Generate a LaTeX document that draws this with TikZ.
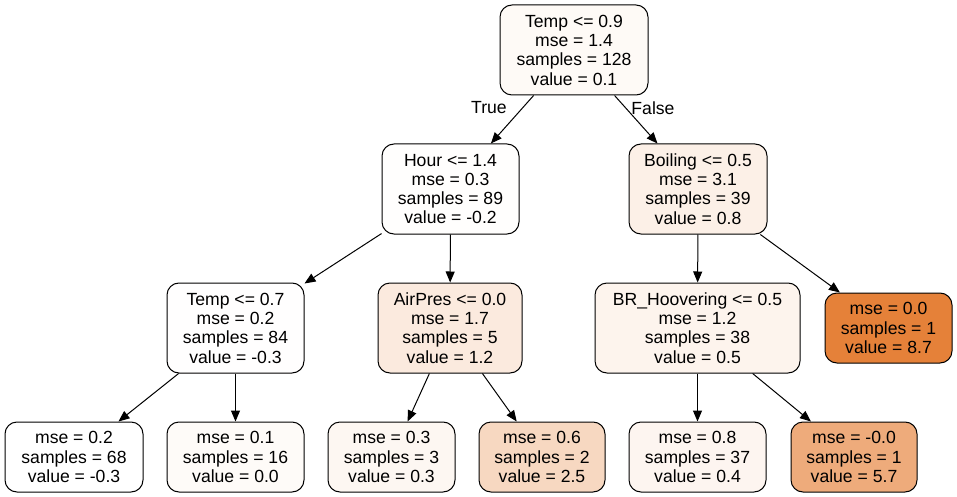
\documentclass[tikz,border=0pt]{standalone}
\usepackage{fontspec}
\setmainfont{Liberation Sans}
\usetikzlibrary{arrows.meta}
\definecolor{cA}{RGB}{254,250,246}
\definecolor{cB}{RGB}{255,254,253}
\definecolor{cC}{RGB}{252,240,231}
\definecolor{cD}{RGB}{255,254,254}
\definecolor{cE}{RGB}{251,234,222}
\definecolor{cF}{RGB}{253,244,237}
\definecolor{cG}{RGB}{229,129,57}
\definecolor{cH}{RGB}{255,255,255}
\definecolor{cI}{RGB}{254,251,248}
\definecolor{cJ}{RGB}{253,247,242}
\definecolor{cK}{RGB}{247,216,193}
\definecolor{cL}{RGB}{253,245,240}
\definecolor{cM}{RGB}{238,171,123}
\begin{document}
\begin{tikzpicture}[x=1pt,y=-1pt,
  tnode/.style={draw=black, line width=1pt, rounded corners=12pt, inner sep=0pt,
    align=center, font=\fontsize{17.6}{19.3}\selectfont, minimum height=90pt},
  leafnode/.style={tnode, minimum height=70pt},
  edge/.style={draw=black, line width=1pt, -{Triangle[length=11pt,width=9pt]}},
  lbl/.style={font=\fontsize{17.6}{19.3}\selectfont, inner sep=0pt}]
\fill[white] (0,0) rectangle (957,497);
\useasboundingbox (0,0) rectangle (957,497);
% level 0
\node[tnode, fill=cA, minimum width=148pt] (n0) at (574,50)
  {Temp <= 0.9\\mse = 1.4\\samples = 128\\value = 0.1};
% level 1
\node[tnode, fill=cB, minimum width=137pt] (n1) at (450.5,189)
  {Hour <= 1.4\\mse = 0.3\\samples = 89\\value = -0.2};
\node[tnode, fill=cC, minimum width=138pt] (n2) at (698,189)
  {Boiling <= 0.5\\mse = 3.1\\samples = 39\\value = 0.8};
% level 2
\node[tnode, fill=cD, minimum width=137pt] (n3) at (235.5,328)
  {Temp <= 0.7\\mse = 0.2\\samples = 84\\value = -0.3};
\node[tnode, fill=cE, minimum width=144pt] (n4) at (450,328)
  {AirPres <= 0.0\\mse = 1.7\\samples = 5\\value = 1.2};
\node[tnode, fill=cF, minimum width=205pt] (n5) at (697.5,328)
  {BR\_Hoovering <= 0.5\\mse = 1.2\\samples = 38\\value = 0.5};
\node[leafnode, fill=cG, minimum width=127pt] (n6) at (888.5,328)
  {mse = 0.0\\samples = 1\\value = 8.7};
% level 3
\node[leafnode, fill=cH, minimum width=138pt] (n7) at (74,457)
  {mse = 0.2\\samples = 68\\value = -0.3};
\node[leafnode, fill=cI, minimum width=137pt] (n8) at (235.5,457)
  {mse = 0.1\\samples = 16\\value = 0.0};
\node[leafnode, fill=cJ, minimum width=127pt] (n9) at (391.5,457)
  {mse = 0.3\\samples = 3\\value = 0.3};
\node[leafnode, fill=cK, minimum width=126pt] (n10) at (542,457)
  {mse = 0.6\\samples = 2\\value = 2.5};
\node[leafnode, fill=cL, minimum width=137pt] (n11) at (697.5,457)
  {mse = 0.8\\samples = 37\\value = 0.4};
\node[leafnode, fill=cM, minimum width=126pt] (n12) at (854,457)
  {mse = -0.0\\samples = 1\\value = 5.7};
% edges
\draw[edge] (n0) -- (n1);
\draw[edge] (n0) -- (n2);
\draw[edge] (n1) -- (n3);
\draw[edge] (n1) -- (n4);
\draw[edge] (n2) -- (n5);
\draw[edge] (n2) -- (n6);
\draw[edge] (n3) -- (n7);
\draw[edge] (n3) -- (n8);
\draw[edge] (n4) -- (n9);
\draw[edge] (n4) -- (n10);
\draw[edge] (n5) -- (n11);
\draw[edge] (n5) -- (n12);
% edge labels
\node[lbl] (tlab) at (489,108) {True};
\node[lbl] (flab) at (653,108) {False};
\end{tikzpicture}
\end{document}
